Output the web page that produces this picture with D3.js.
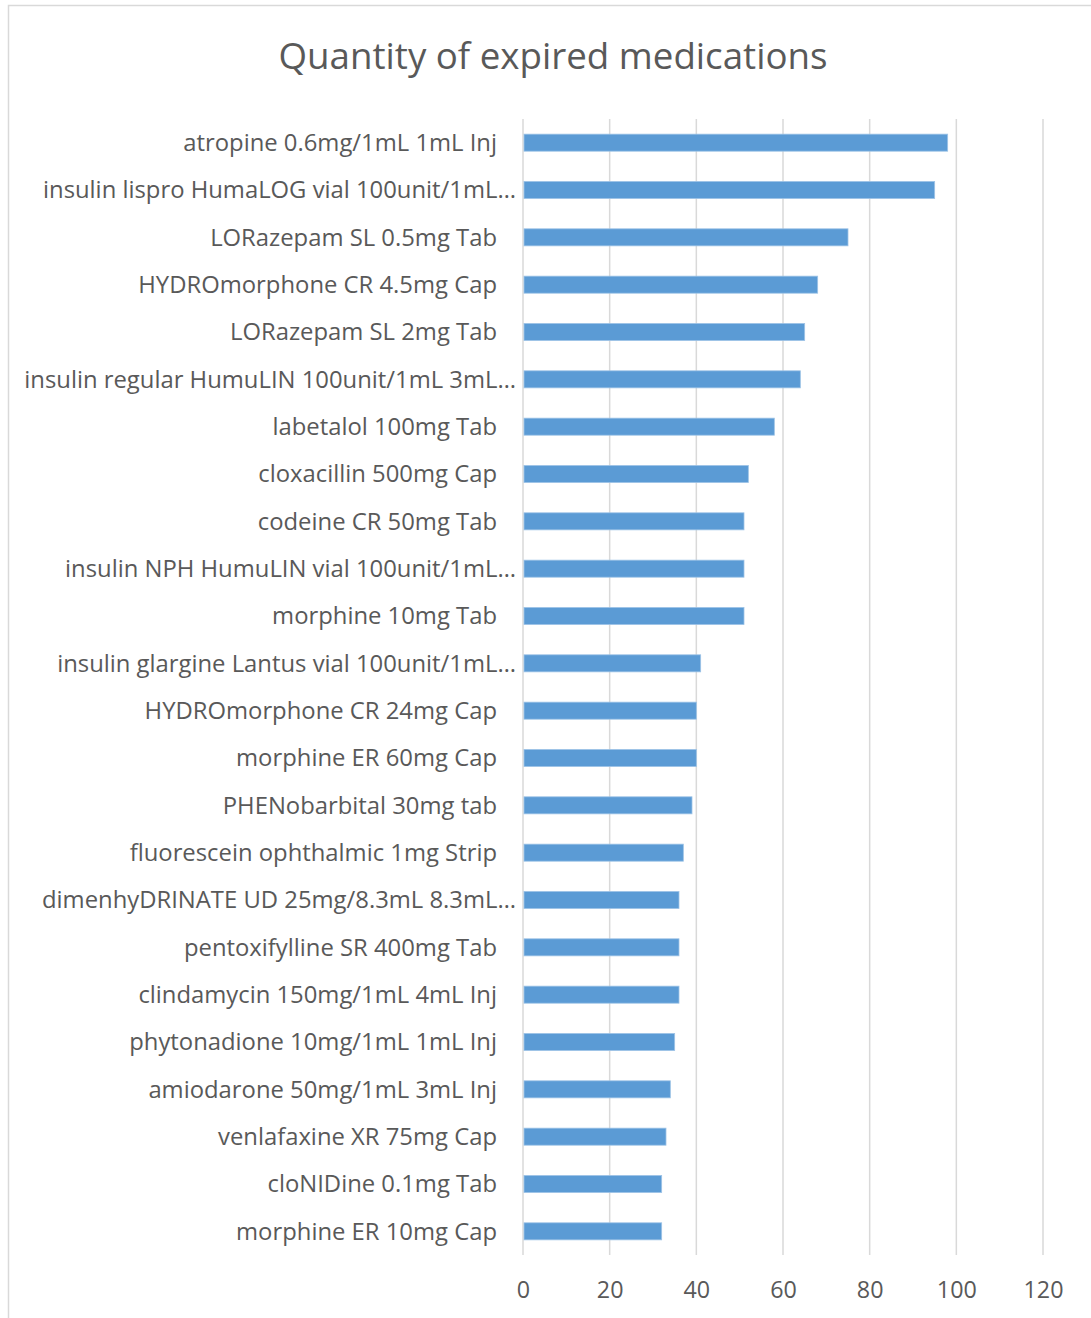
<!DOCTYPE html>
<html>
<head>
<meta charset="utf-8">
<script src="https://cdn.jsdelivr.net/npm/d3@7"></script>
<style>
  html, body { margin: 0; padding: 0; background: #fff; }
  svg { display: block; }
  text { font-family: "Open Sans", Lato, sans-serif; fill: #595959; }
</style>
</head>
<body>
<svg id="chart" width="1091" height="1318"></svg>
<script>
const medications = [
  "atropine 0.6mg/1mL 1mL Inj",
  "insulin lispro HumaLOG vial 100unit/1mL…",
  "LORazepam SL 0.5mg Tab",
  "HYDROmorphone CR 4.5mg Cap",
  "LORazepam SL 2mg Tab",
  "insulin regular HumuLIN 100unit/1mL 3mL…",
  "labetalol 100mg Tab",
  "cloxacillin 500mg Cap",
  "codeine CR 50mg Tab",
  "insulin NPH HumuLIN vial 100unit/1mL…",
  "morphine 10mg Tab",
  "insulin glargine Lantus vial 100unit/1mL…",
  "HYDROmorphone CR 24mg Cap",
  "morphine ER 60mg Cap",
  "PHENobarbital 30mg tab",
  "fluorescein ophthalmic 1mg Strip",
  "dimenhyDRINATE UD 25mg/8.3mL 8.3mL…",
  "pentoxifylline SR 400mg Tab",
  "clindamycin 150mg/1mL 4mL Inj",
  "phytonadione 10mg/1mL 1mL Inj",
  "amiodarone 50mg/1mL 3mL Inj",
  "venlafaxine XR 75mg Cap",
  "cloNIDine 0.1mg Tab",
  "morphine ER 10mg Cap"
];
const quantities = [98, 95, 75, 68, 65, 64, 58, 52, 51, 51, 51, 41, 40, 40, 39, 37, 36, 36, 36, 35, 34, 33, 32, 32];
const xTicks = [0, 20, 40, 60, 80, 100, 120];
const chartTitle = "Quantity of expired medications";

const svg = d3.select("#chart");

// size a font so that a sample string occupies a given width
function fitSize(sample, targetWidth) {
  const probe = svg.append("text").attr("font-size", 20).text(sample);
  const w = probe.node().getComputedTextLength();
  probe.remove();
  return 20 * targetWidth / w;
}
const labelSize = fitSize("atropine 0.6mg/1mL 1mL Inj", 314);
const titleSize = fitSize(chartTitle, 549);
const tickSize = fitSize("100", 40);

// outer chart frame (runs off the right and bottom edges)
svg.append("rect")
  .attr("x", 8.5).attr("y", 5.5)
  .attr("width", 1200).attr("height", 1400)
  .attr("fill", "#fff")
  .attr("stroke", "#d9d9d9")
  .attr("stroke-width", 1.5);

const plot = { left: 523, right: 1043, top: 119, bottom: 1255 };

const x = d3.scaleLinear().domain([0, 120]).range([plot.left, plot.right]);
const y = d3.scaleBand().domain(medications).range([plot.top, plot.bottom]).paddingInner(0.64).paddingOuter(0.32);

// vertical gridlines
svg.append("g")
  .selectAll("line")
  .data(xTicks)
  .join("line")
  .attr("x1", d => x(d)).attr("x2", d => x(d))
  .attr("y1", plot.top).attr("y2", plot.bottom)
  .attr("stroke", "#d9d9d9")
  .attr("stroke-width", 1.5);

// bars
svg.append("g")
  .selectAll("rect")
  .data(medications)
  .join("rect")
  .attr("x", x(0) + 1)
  .attr("y", d => y(d))
  .attr("width", (d, i) => x(quantities[i]) - x(0) - 1)
  .attr("height", y.bandwidth())
  .attr("fill", "#5b9bd5")
  .attr("stroke", "#9dc3e6")
  .attr("stroke-width", 0.8);

// category labels; truncated names carry their ellipsis past the common edge
svg.append("g")
  .selectAll("text")
  .data(medications)
  .join("text")
  .attr("x", d => d.endsWith("…") ? 516 : 497)
  .attr("y", d => y(d) + y.bandwidth() / 2)
  .attr("dy", "0.35em")
  .attr("text-anchor", "end")
  .attr("font-size", labelSize)
  .text(d => d);

// x axis tick labels
const xAxis = d3.axisBottom(x).tickValues(xTicks).tickSize(0).tickPadding(0);
const gx = svg.append("g").attr("transform", `translate(0, ${plot.bottom})`).call(xAxis);
gx.select(".domain").remove();
gx.selectAll("text")
  .attr("y", 43)
  .attr("dy", 0)
  .attr("font-size", tickSize)
  .attr("fill", "#595959")
  .style("font-family", "'Open Sans', Lato, sans-serif");

// title
svg.append("text")
  .attr("x", 553)
  .attr("y", 69)
  .attr("text-anchor", "middle")
  .attr("font-size", titleSize)
  .text(chartTitle);
</script>
</body>
</html>
